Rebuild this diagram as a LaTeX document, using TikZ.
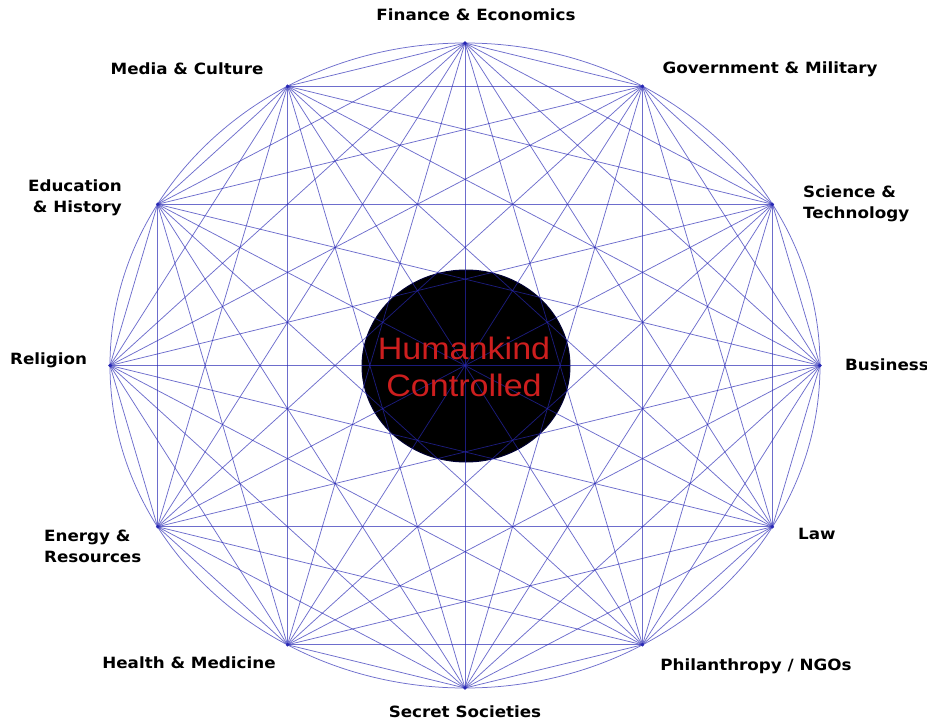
\documentclass[tikz,border=0pt]{standalone}
\usepackage{fontspec}
\setmainfont{DejaVu Sans}
\newfontfamily\arialfont{Liberation Sans}
\definecolor{edgeblue}{RGB}{40,40,180}
\definecolor{hkred}{RGB}{205,30,30}
\newcommand{\wid}[1]{\scalebox{1.08}[1]{#1}}
\tikzset{
  lbl/.style={font=\bfseries\fontsize{15.5}{21}\selectfont, text=black, inner sep=0pt, align=center},
  edge/.style={draw=edgeblue, line width=0.75pt, opacity=0.68},
  hub/.style={fill=black, draw=black!80!blue, line width=1pt}
}
\begin{document}
\begin{tikzpicture}[x=1pt,y=-1pt]
\useasboundingbox (0,0) rectangle (927,723);
% center disk
\fill[hub] (466,366) ellipse [x radius=104, y radius=96];
% vertices on ellipse
\foreach \i in {0,...,11} {
  \coordinate (p\i) at ({465+355*cos(90-30*\i)}, {365.5-322.5*sin(90-30*\i)});
}
% outer ellipse
\draw[edge] (465,365.5) ellipse [x radius=355, y radius=322.5];
% complete graph
\foreach \i in {0,...,10} {
  \pgfmathtruncatemacro{\s}{\i+1}
  \foreach \j in {\s,...,11} {
    \draw[edge] (p\i) -- (p\j);
  }
}
\foreach \i in {0,...,11} { \fill[edgeblue] (p\i) circle (1.8); }
% center text
\node[text=hkred, font=\arialfont\fontsize{31}{37}\selectfont, align=center, inner sep=0pt] (hk) at (464,367)
  {\scalebox{1.1}[1]{Humankind}\\\scalebox{1.1}[1]{Controlled}};
% labels
\node[lbl] (l0) at (476,15) {\wid{Finance \& Economics}};
\node[lbl] (l1) at (770,69) {\wid{Government \& Military}};
\node[lbl, align=left, anchor=west] (l2) at (803,204) {\wid{Science \&}\\\wid{Technology}};
\node[lbl, anchor=west] (l3) at (845,365) {\wid{Business}};
\node[lbl, anchor=west] (l4) at (798,534) {\wid{Law}};
\node[lbl] (l5) at (756,666) {\wid{Philanthropy / NGOs}};
\node[lbl] (l6) at (465,712) {\wid{Secret Societies}};
\node[lbl] (l7) at (189,663) {\wid{Health \& Medicine}};
\node[lbl, align=left, anchor=west] (l8) at (44,546) {\wid{Energy \&}\\\wid{Resources}};
\node[lbl, anchor=west] (l9) at (10,360) {\wid{Religion}};
\node[lbl, align=right, anchor=east] (l10) at (122,198) {\wid{Education}\\\wid{\& History}};
\node[lbl] (l11) at (187,69) {\wid{Media \& Culture}};
\end{tikzpicture}
\end{document}
